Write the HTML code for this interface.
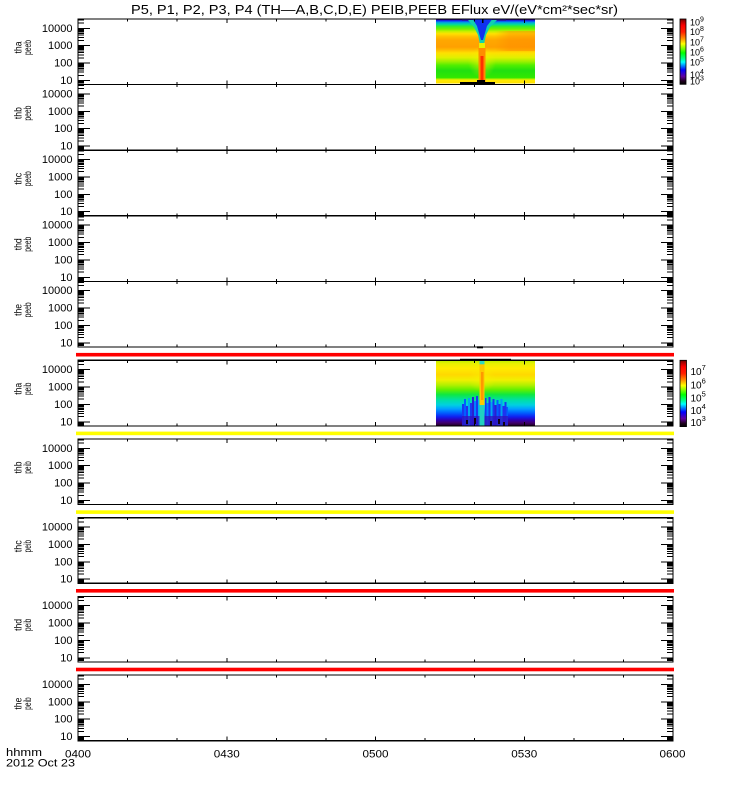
<!DOCTYPE html>
<html><head><meta charset="utf-8"><style>
html,body{margin:0;padding:0;background:#fff;overflow:hidden}
svg{display:block}
text{font-family:"Liberation Sans",sans-serif;fill:#000}
</style></head><body>
<svg width="750" height="800" viewBox="0 0 750 800" xmlns="http://www.w3.org/2000/svg">
<defs>
<linearGradient id="cb" x1="0" y1="0" x2="0" y2="1">
<stop offset="0" stop-color="#700000"/><stop offset="0.05" stop-color="#c00000"/><stop offset="0.1" stop-color="#ff0000"/><stop offset="0.2" stop-color="#ff2000"/><stop offset="0.3" stop-color="#ff9000"/><stop offset="0.38" stop-color="#ffff00"/><stop offset="0.45" stop-color="#80ff00"/><stop offset="0.52" stop-color="#00ff00"/><stop offset="0.6" stop-color="#00ff80"/><stop offset="0.66" stop-color="#00ffff"/><stop offset="0.72" stop-color="#0080ff"/><stop offset="0.78" stop-color="#0000ff"/><stop offset="0.88" stop-color="#6000a0"/><stop offset="0.95" stop-color="#200020"/><stop offset="1" stop-color="#000000"/>
</linearGradient>
<linearGradient id="s1" x1="0" y1="0" x2="0" y2="1">
<stop offset="0" stop-color="#1a0030"/><stop offset="0.02" stop-color="#2a0090"/><stop offset="0.035" stop-color="#1030ff"/><stop offset="0.06" stop-color="#00a0e0"/><stop offset="0.09" stop-color="#00d8a0"/><stop offset="0.12" stop-color="#30ee30"/><stop offset="0.16" stop-color="#70f000"/><stop offset="0.2" stop-color="#c8f000"/><stop offset="0.235" stop-color="#ffe000"/><stop offset="0.28" stop-color="#ffc000"/><stop offset="0.33" stop-color="#ffa800"/><stop offset="0.44" stop-color="#ffa000"/><stop offset="0.48" stop-color="#ffb800"/><stop offset="0.53" stop-color="#ffe000"/><stop offset="0.6" stop-color="#e0f000"/><stop offset="0.66" stop-color="#a0f000"/><stop offset="0.72" stop-color="#50ee00"/><stop offset="0.8" stop-color="#20e010"/><stop offset="0.91" stop-color="#30e800"/><stop offset="0.935" stop-color="#c0f000"/><stop offset="0.95" stop-color="#ffe800"/><stop offset="1" stop-color="#ffe000"/>
</linearGradient>
<linearGradient id="s2" x1="0" y1="0" x2="0" y2="1">
<stop offset="0" stop-color="#b8f000"/><stop offset="0.05" stop-color="#e8f000"/><stop offset="0.12" stop-color="#ffec00"/><stop offset="0.22" stop-color="#ffd800"/><stop offset="0.3" stop-color="#f0f000"/><stop offset="0.38" stop-color="#b0f000"/><stop offset="0.45" stop-color="#60f000"/><stop offset="0.52" stop-color="#10e840"/><stop offset="0.6" stop-color="#00e0a0"/><stop offset="0.68" stop-color="#00d0e0"/><stop offset="0.74" stop-color="#00a0ff"/><stop offset="0.8" stop-color="#0060ff"/><stop offset="0.86" stop-color="#1020f0"/><stop offset="0.91" stop-color="#3000b0"/><stop offset="0.95" stop-color="#400070"/><stop offset="1" stop-color="#200020"/>
</linearGradient>
<linearGradient id="ro" x1="0" y1="0" x2="1" y2="0">
<stop offset="0" stop-color="#ff8800" stop-opacity="0"/><stop offset="0.35" stop-color="#ff8800" stop-opacity="0.45"/><stop offset="1" stop-color="#ff8800" stop-opacity="0.5"/>
</linearGradient>
<radialGradient id="halo" cx="0.5" cy="0.5" r="0.5">
<stop offset="0" stop-color="#f8f000" stop-opacity="0.6"/><stop offset="1" stop-color="#f8f000" stop-opacity="0"/>
</radialGradient>
<g id="ax" fill="none" stroke="#000" stroke-width="1" shape-rendering="crispEdges">
<path id="lt" d="M78 61.5h12M78 44.1h12M78 26.7h12M78 9.3h12M78 62.3h6M78 63.19h6M78 64.2h6M78 65.36h6M78 56.26h6M78 53.2h6M78 51.02h6M78 49.34h6M78 47.96h6M78 46.8h6M78 45.79h6M78 44.9h6M78 38.86h6M78 35.8h6M78 33.62h6M78 31.94h6M78 30.56h6M78 29.4h6M78 28.39h6M78 27.5h6M78 21.46h6M78 18.4h6M78 16.22h6M78 14.54h6M78 13.16h6M78 12h6M78 10.99h6M78 10.1h6M78 4.06h6M78 1h6"/>
<use href="#lt" transform="matrix(-1 0 0 1 751 0)"/>
<path d="M127.58 65.6v-2.5M177.17 65.6v-2.5M276.33 65.6v-2.5M325.92 65.6v-2.5M425.08 65.6v-2.5M474.67 65.6v-2.5M573.83 65.6v-2.5M623.42 65.6v-2.5M226.75 65.6v-4M375.5 65.6v-4M524.25 65.6v-4M127.58 0v2.5M177.17 0v2.5M276.33 0v2.5M325.92 0v2.5M425.08 0v2.5M474.67 0v2.5M573.83 0v2.5M623.42 0v2.5M226.75 0v4M375.5 0v4M524.25 0v4"/>
<rect x="78" y="0" width="595" height="65.6" stroke-width="1.2"/>
</g>
</defs>

<!-- Title -->
<text x="131" y="13.8" font-size="13" textLength="487" lengthAdjust="spacingAndGlyphs">P5, P1, P2, P3, P4 (TH—A,B,C,D,E) PEIB,PEEB EFlux eV/(eV*cm²*sec*sr)</text>

<!-- Spectrogram 1 (tha peeb) -->
<rect x="436" y="18.5" width="99" height="65" fill="url(#s1)"/>
<rect x="495" y="31" width="40" height="20" fill="url(#ro)"/>
<ellipse cx="482" cy="62" rx="14" ry="16" fill="url(#halo)"/>
<rect x="462" y="18.5" width="44" height="2.5" fill="#2818b0"/>
<polygon points="468,20 497,20 490,27 486,35 484,44 480,44 478,35 474,27" fill="#10d0b0"/>
<polygon points="473,19.5 492,19.5 487,26 485,33 483,40 481,40 479,33 477,26" fill="#1030f0"/>
<rect x="479" y="43" width="6" height="6" fill="#e8f000"/>
<rect x="478.5" y="48" width="7" height="35" fill="#ff8c00"/>
<rect x="480.5" y="56" width="3" height="25" fill="#ff3000"/>
<rect x="482" y="19" width="1.5" height="4" fill="#000"/>
<rect x="460" y="82" width="35" height="2" fill="#000"/>
<rect x="477" y="80" width="8" height="4" fill="#000"/>

<!-- Spectrogram 2 (tha peib) -->
<rect x="436" y="360.3" width="99" height="65.7" fill="url(#s2)"/>
<ellipse cx="482" cy="378" rx="14" ry="14" fill="url(#halo)"/>
<g>
<rect x="462" y="404" width="2" height="22" fill="#1838f0"/>
<rect x="464" y="399" width="2" height="27" fill="#0060ff"/>
<rect x="466" y="406" width="2" height="20" fill="#2030f0"/>
<rect x="468" y="398" width="2" height="28" fill="#00a8f0"/>
<rect x="470" y="403" width="2" height="23" fill="#1838f0"/>
<rect x="472" y="397" width="2" height="29" fill="#2a20d0"/>
<rect x="474" y="401" width="2" height="25" fill="#0080ff"/>
<rect x="476" y="396" width="2" height="30" fill="#1838f0"/>
<rect x="478" y="400" width="1.5" height="26" fill="#00b0f0"/>
<rect x="485" y="398" width="1.5" height="28" fill="#1838f0"/>
<rect x="486.5" y="403" width="2" height="23" fill="#0080ff"/>
<rect x="488.5" y="397" width="2" height="29" fill="#2030f0"/>
<rect x="490.5" y="402" width="2" height="24" fill="#00a8f0"/>
<rect x="492.5" y="399" width="2" height="27" fill="#1838f0"/>
<rect x="494.5" y="405" width="2" height="21" fill="#2a20d0"/>
<rect x="496.5" y="400" width="2" height="26" fill="#0060ff"/>
<rect x="498.5" y="404" width="2" height="22" fill="#1838f0"/>
<rect x="500.5" y="399" width="2" height="27" fill="#00a0f0"/>
<rect x="502.5" y="406" width="2" height="20" fill="#2030f0"/>
<rect x="504.5" y="402" width="2" height="24" fill="#1838f0"/>
<rect x="506.5" y="407" width="1.5" height="19" fill="#0060ff"/>
</g>
<rect x="462" y="416" width="46" height="10" fill="#3010c0" opacity="0.75"/>
<rect x="466" y="420" width="2" height="4" fill="#100010"/>
<rect x="474" y="418" width="2" height="6" fill="#100010"/>
<rect x="490" y="421" width="2" height="5" fill="#100010"/>
<rect x="498" y="419" width="2" height="5" fill="#100010"/>
<rect x="503" y="422" width="2" height="4" fill="#100010"/>
<rect x="479.5" y="363" width="5" height="42" fill="#ffc800"/>
<rect x="481" y="372" width="2.5" height="28" fill="#ff9800"/>
<rect x="479.5" y="405" width="5" height="21" fill="#20d0c0"/>
<rect x="479.5" y="360.3" width="5" height="4" fill="#30d8c0"/>
<rect x="460" y="358.8" width="51" height="1.8" fill="#000"/>
<rect x="477" y="346.3" width="6" height="2" fill="#000"/>

<!-- Colored separator bars -->
<rect x="76" y="352.9" width="598" height="3.6" fill="#ff0000"/>
<rect x="76" y="431.6" width="598" height="3.6" fill="#ffff00"/>
<rect x="76" y="510.3" width="598" height="3.6" fill="#ffff00"/>
<rect x="76" y="589" width="598" height="3.6" fill="#ff0000"/>
<rect x="76" y="667.7" width="598" height="3.6" fill="#ff0000"/>

<!-- Axes -->
<use href="#ax" transform="translate(0,19)"/>
<use href="#ax" transform="translate(0,84.6)"/>
<use href="#ax" transform="translate(0,150.2)"/>
<use href="#ax" transform="translate(0,215.8)"/>
<use href="#ax" transform="translate(0,281.4)"/>
<use href="#ax" transform="translate(0,360.3)"/>
<use href="#ax" transform="translate(0,439)"/>
<use href="#ax" transform="translate(0,517.7)"/>
<use href="#ax" transform="translate(0,596.4)"/>
<use href="#ax" transform="translate(0,675.1)"/>

<!-- Y tick labels -->
<g font-size="11" text-anchor="end">
<g transform="translate(0,19)"><text x="72.5" y="12.8">10000</text><text x="72.5" y="30.2">1000</text><text x="72.5" y="47.6">100</text><text x="72.5" y="65">10</text></g>
<g transform="translate(0,84.6)"><text x="72.5" y="12.8">10000</text><text x="72.5" y="30.2">1000</text><text x="72.5" y="47.6">100</text><text x="72.5" y="65">10</text></g>
<g transform="translate(0,150.2)"><text x="72.5" y="12.8">10000</text><text x="72.5" y="30.2">1000</text><text x="72.5" y="47.6">100</text><text x="72.5" y="65">10</text></g>
<g transform="translate(0,215.8)"><text x="72.5" y="12.8">10000</text><text x="72.5" y="30.2">1000</text><text x="72.5" y="47.6">100</text><text x="72.5" y="65">10</text></g>
<g transform="translate(0,281.4)"><text x="72.5" y="12.8">10000</text><text x="72.5" y="30.2">1000</text><text x="72.5" y="47.6">100</text><text x="72.5" y="65">10</text></g>
<g transform="translate(0,360.3)"><text x="72.5" y="12.8">10000</text><text x="72.5" y="30.2">1000</text><text x="72.5" y="47.6">100</text><text x="72.5" y="65">10</text></g>
<g transform="translate(0,439)"><text x="72.5" y="12.8">10000</text><text x="72.5" y="30.2">1000</text><text x="72.5" y="47.6">100</text><text x="72.5" y="65">10</text></g>
<g transform="translate(0,517.7)"><text x="72.5" y="12.8">10000</text><text x="72.5" y="30.2">1000</text><text x="72.5" y="47.6">100</text><text x="72.5" y="65">10</text></g>
<g transform="translate(0,596.4)"><text x="72.5" y="12.8">10000</text><text x="72.5" y="30.2">1000</text><text x="72.5" y="47.6">100</text><text x="72.5" y="65">10</text></g>
<g transform="translate(0,675.1)"><text x="72.5" y="12.8">10000</text><text x="72.5" y="30.2">1000</text><text x="72.5" y="47.6">100</text><text x="72.5" y="65">10</text></g>
</g>

<!-- Panel labels -->
<g font-size="10" text-anchor="middle">
<text transform="translate(21.7,47.5) rotate(-90)" textLength="12" lengthAdjust="spacingAndGlyphs">tha</text>
<text transform="translate(31,47.5) rotate(-90)" textLength="15" lengthAdjust="spacingAndGlyphs">peeb</text>
<text transform="translate(21.7,113.1) rotate(-90)" textLength="12" lengthAdjust="spacingAndGlyphs">thb</text>
<text transform="translate(31,113.1) rotate(-90)" textLength="15" lengthAdjust="spacingAndGlyphs">peeb</text>
<text transform="translate(21.7,178.7) rotate(-90)" textLength="12" lengthAdjust="spacingAndGlyphs">thc</text>
<text transform="translate(31,178.7) rotate(-90)" textLength="15" lengthAdjust="spacingAndGlyphs">peeb</text>
<text transform="translate(21.7,244.3) rotate(-90)" textLength="12" lengthAdjust="spacingAndGlyphs">thd</text>
<text transform="translate(31,244.3) rotate(-90)" textLength="15" lengthAdjust="spacingAndGlyphs">peeb</text>
<text transform="translate(21.7,309.9) rotate(-90)" textLength="12" lengthAdjust="spacingAndGlyphs">the</text>
<text transform="translate(31,309.9) rotate(-90)" textLength="15" lengthAdjust="spacingAndGlyphs">peeb</text>
<text transform="translate(21.7,388.8) rotate(-90)" textLength="12" lengthAdjust="spacingAndGlyphs">tha</text>
<text transform="translate(31,388.8) rotate(-90)" textLength="12.5" lengthAdjust="spacingAndGlyphs">peib</text>
<text transform="translate(21.7,467.5) rotate(-90)" textLength="12" lengthAdjust="spacingAndGlyphs">thb</text>
<text transform="translate(31,467.5) rotate(-90)" textLength="12.5" lengthAdjust="spacingAndGlyphs">peib</text>
<text transform="translate(21.7,546.2) rotate(-90)" textLength="12" lengthAdjust="spacingAndGlyphs">thc</text>
<text transform="translate(31,546.2) rotate(-90)" textLength="12.5" lengthAdjust="spacingAndGlyphs">peib</text>
<text transform="translate(21.7,624.9) rotate(-90)" textLength="12" lengthAdjust="spacingAndGlyphs">thd</text>
<text transform="translate(31,624.9) rotate(-90)" textLength="12.5" lengthAdjust="spacingAndGlyphs">peib</text>
<text transform="translate(21.7,703.6) rotate(-90)" textLength="12" lengthAdjust="spacingAndGlyphs">the</text>
<text transform="translate(31,703.6) rotate(-90)" textLength="12.5" lengthAdjust="spacingAndGlyphs">peib</text>
</g>

<!-- X axis labels -->
<g font-size="11" text-anchor="middle">
<text x="78" y="757.5" textLength="26" lengthAdjust="spacingAndGlyphs">0400</text>
<text x="226.75" y="757.5" textLength="26" lengthAdjust="spacingAndGlyphs">0430</text>
<text x="375.5" y="757.5" textLength="26" lengthAdjust="spacingAndGlyphs">0500</text>
<text x="524.25" y="757.5" textLength="26" lengthAdjust="spacingAndGlyphs">0530</text>
<text x="672.5" y="757.5" textLength="26" lengthAdjust="spacingAndGlyphs">0600</text>
</g>
<text x="6" y="756" font-size="11" textLength="36" lengthAdjust="spacingAndGlyphs">hhmm</text>
<text x="6" y="766.5" font-size="11" textLength="69" lengthAdjust="spacingAndGlyphs">2012 Oct 23</text>

<!-- Colorbar 1 -->
<rect x="680" y="19" width="6" height="65.3" fill="url(#cb)" stroke="#000" stroke-width="0.8"/>
<g font-size="9">
<text x="690" y="25.7">10<tspan dy="-4" font-size="7">9</tspan></text>
<text x="690" y="35">10<tspan dy="-4" font-size="7">8</tspan></text>
<text x="690" y="45.5">10<tspan dy="-4" font-size="7">7</tspan></text>
<text x="690" y="55.5">10<tspan dy="-4" font-size="7">6</tspan></text>
<text x="690" y="65.5">10<tspan dy="-4" font-size="7">5</tspan></text>
<text x="690" y="77.8">10<tspan dy="-4" font-size="7">4</tspan></text>
<text x="690" y="84.4">10<tspan dy="-4" font-size="7">3</tspan></text>
</g>

<!-- Colorbar 2 -->
<rect x="680" y="360.3" width="6.5" height="66.3" fill="url(#cb)" stroke="#000" stroke-width="0.8"/>
<g font-size="10">
<text x="690.5" y="375">10<tspan dy="-5" font-size="7.5">7</tspan></text>
<text x="690.5" y="388.3">10<tspan dy="-5" font-size="7.5">6</tspan></text>
<text x="690.5" y="401.7">10<tspan dy="-5" font-size="7.5">5</tspan></text>
<text x="690.5" y="414">10<tspan dy="-5" font-size="7.5">4</tspan></text>
<text x="690.5" y="426">10<tspan dy="-5" font-size="7.5">3</tspan></text>
</g>
</svg>
</body></html>
